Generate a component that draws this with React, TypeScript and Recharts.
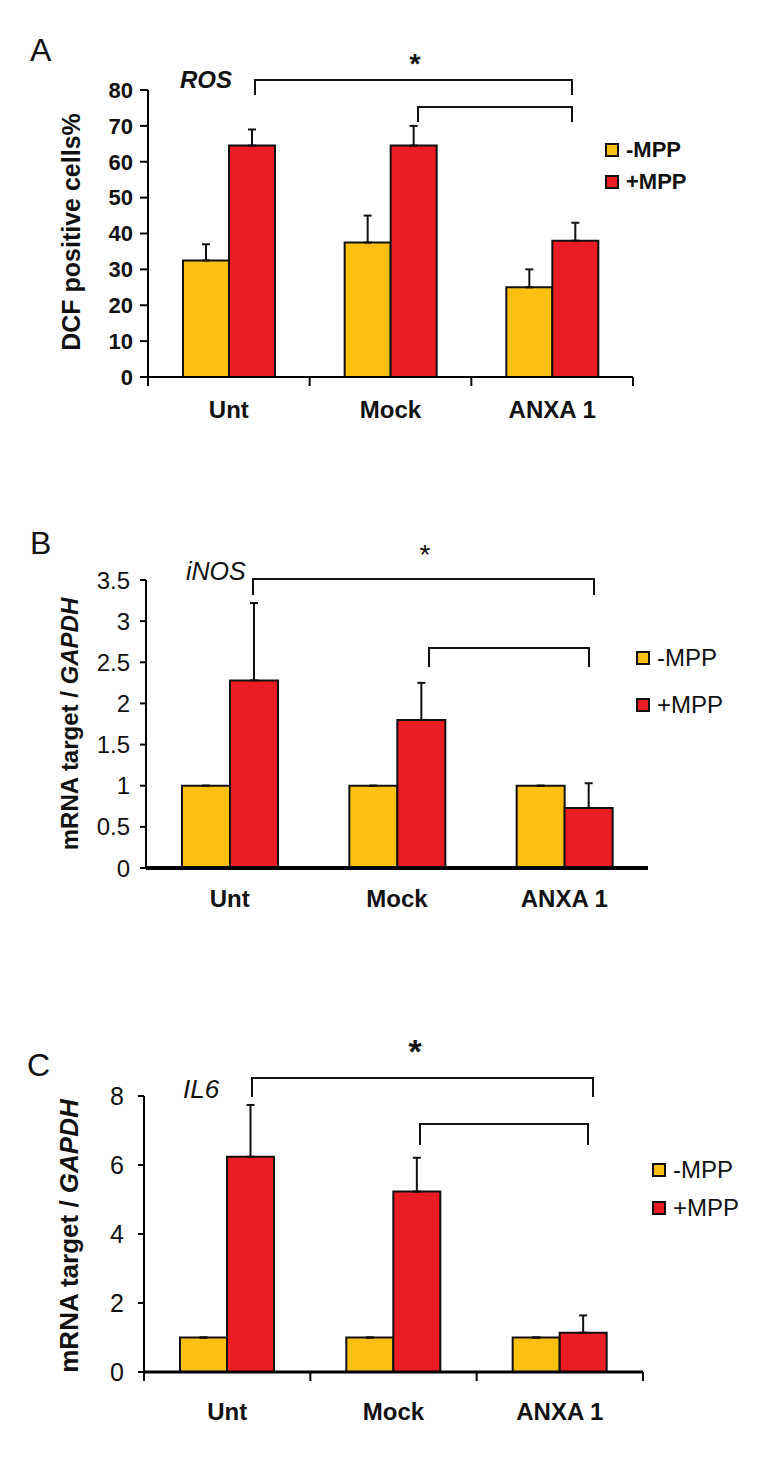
import React from 'react';
import { BarChart, Bar, XAxis, YAxis, ErrorBar } from 'recharts';

const categories = ['Unt', 'Mock', 'ANXA 1'];
const seriesNames = ['-MPP', '+MPP'];
const colors = ['#FDC010', '#EC1C24'];

// A: ROS
const rosMinus = [32.5, 37.5, 25];
const rosMinusErr = [4.5, 7.5, 5];
const rosPlus = [64.5, 64.5, 38];
const rosPlusErr = [4.5, 5.5, 5];
const rosTicks = [0, 10, 20, 30, 40, 50, 60, 70, 80];

// B: iNOS
const inosMinus = [1, 1, 1];
const inosMinusErr = [0, 0, 0];
const inosPlus = [2.28, 1.8, 0.73];
const inosPlusErr = [0.94, 0.45, 0.3];
const inosTicks = [0, 0.5, 1, 1.5, 2, 2.5, 3, 3.5];

// C: IL6
const il6Minus = [1, 1, 1];
const il6MinusErr = [0, 0, 0];
const il6Plus = [6.24, 5.23, 1.14];
const il6PlusErr = [1.5, 0.98, 0.5];
const il6Ticks = [0, 2, 4, 6, 8];

const FONT = '"Liberation Sans", Arial, sans-serif';
const W = 771;
const YW = 60;
const XH = 40;

const build = (minus: number[], minusErr: number[], plus: number[], plusErr: number[]) =>
  categories.map((name, i) => ({
    name,
    minus: minus[i],
    plus: plus[i],
    minusErr: [0, minusErr[i]],
    plusErr: [0, plusErr[i]],
  }));

type PanelProps = {
  top: number;
  height: number;
  plot: { left: number; right: number; top: number; bottom: number };
  data: any[];
  ticks: number[];
  domainMax: number;
  barSize: number;
  tickBold: boolean;
  tickFont: number;
  yTickSize: number;
  yTickMargin: number;
  xLabelDy: number;
  xTickMarks: boolean;
  xAxisWidth: number;
  legend: { x: number; y: number; pitch: number; bold: boolean; font: number };
};

function Panel(p: PanelProps) {
  const axisY = p.plot.bottom - p.top;
  const half = (p.plot.right - p.plot.left) / categories.length / 2;
  const margin = {
    top: p.plot.top - p.top,
    left: p.plot.left - YW,
    right: W - p.plot.right,
    bottom: p.top + p.height - p.plot.bottom - XH,
  };
  const XTick = (t: any) => {
    const { x, payload, index } = t;
    return (
      <g>
        {p.xTickMarks && (
          <line x1={x - half} x2={x - half} y1={axisY} y2={axisY + 9} stroke="#000" strokeWidth={2} />
        )}
        {p.xTickMarks && index === categories.length - 1 && (
          <line x1={x + half} x2={x + half} y1={axisY} y2={axisY + 9} stroke="#000" strokeWidth={2} />
        )}
        <text x={x} y={axisY + p.xLabelDy} textAnchor="middle" fontFamily={FONT} fontWeight="bold" fontSize={24} fill="#111">
          {payload.value}
        </text>
      </g>
    );
  };
  return (
    <div style={{ position: 'absolute', left: 0, top: p.top, width: W, height: p.height }}>
      <BarChart width={W} height={p.height} data={p.data} margin={margin} barGap={0} barSize={p.barSize}>
        <XAxis
          dataKey="name"
          height={XH}
          stroke="#000"
          strokeWidth={p.xAxisWidth}
          tickLine={false}
          tick={XTick}
          interval={0}
        />
        <YAxis
          width={YW}
          domain={[0, p.domainMax]}
          ticks={p.ticks}
          stroke="#000"
          strokeWidth={2}
          tickSize={p.yTickSize}
          tickMargin={p.yTickMargin}
          tick={{ fill: '#111', fontSize: p.tickFont, fontFamily: FONT, fontWeight: p.tickBold ? 'bold' : 'normal' }}
          allowDataOverflow
        />
        <Bar dataKey="minus" name={seriesNames[0]} fill={colors[0]} stroke="#111" strokeWidth={2} isAnimationActive={false}>
          <ErrorBar dataKey="minusErr" direction="y" width={4} stroke="#111" strokeWidth={2} />
        </Bar>
        <Bar dataKey="plus" name={seriesNames[1]} fill={colors[1]} stroke="#111" strokeWidth={2} isAnimationActive={false}>
          <ErrorBar dataKey="plusErr" direction="y" width={4} stroke="#111" strokeWidth={2} />
        </Bar>
      </BarChart>
      <div
        style={{
          position: 'absolute',
          left: p.legend.x,
          top: p.legend.y - p.top,
          display: 'flex',
          flexDirection: 'column',
          gap: p.legend.pitch - 14,
        }}
      >
        {seriesNames.map((n, i) => (
          <div key={n} style={{ display: 'flex', alignItems: 'center', height: 14 }}>
            <span
              style={{ width: 10, height: 10, background: colors[i], border: '2px solid #111', display: 'inline-block' }}
            />
            <span
              style={{
                marginLeft: 7,
                fontFamily: FONT,
                fontSize: p.legend.font,
                fontWeight: p.legend.bold ? 'bold' : 'normal',
                lineHeight: '14px',
                color: '#111',
                whiteSpace: 'nowrap',
              }}
            >
              {n}
            </span>
          </div>
        ))}
      </div>
    </div>
  );
}

const bracket = (x1: number, x2: number, y: number, drop: number) =>
  `M${x1},${y + drop} V${y} H${x2} V${y + drop}`;

export default function App() {
  return (
    <div style={{ position: 'absolute', left: 0, top: 0, width: W, height: 1471, background: '#fff' }}>
      <Panel
        top={0}
        height={440}
        plot={{ left: 148, right: 633, top: 90, bottom: 377 }}
        data={build(rosMinus, rosMinusErr, rosPlus, rosPlusErr)}
        ticks={rosTicks}
        domainMax={80}
        barSize={46}
        tickBold
        tickFont={22}
        yTickSize={8}
        yTickMargin={7}
        xLabelDy={41}
        xTickMarks
        xAxisWidth={2}
        legend={{ x: 605, y: 143, pitch: 32, bold: true, font: 22 }}
      />
      <Panel
        top={470}
        height={450}
        plot={{ left: 146, right: 648, top: 580, bottom: 868 }}
        data={build(inosMinus, inosMinusErr, inosPlus, inosPlusErr)}
        ticks={inosTicks}
        domainMax={3.5}
        barSize={48}
        tickBold={false}
        tickFont={24}
        yTickSize={6}
        yTickMargin={10}
        xLabelDy={39}
        xTickMarks={false}
        xAxisWidth={4}
        legend={{ x: 636, y: 651, pitch: 47, bold: false, font: 24 }}
      />
      <Panel
        top={980}
        height={480}
        plot={{ left: 144, right: 643, top: 1096, bottom: 1372 }}
        data={build(il6Minus, il6MinusErr, il6Plus, il6PlusErr)}
        ticks={il6Ticks}
        domainMax={8}
        barSize={47}
        tickBold={false}
        tickFont={25}
        yTickSize={6}
        yTickMargin={14}
        xLabelDy={48}
        xTickMarks
        xAxisWidth={3}
        legend={{ x: 652, y: 1163, pitch: 38, bold: false, font: 24 }}
      />
      <svg
        width={W}
        height={1471}
        style={{ position: 'absolute', left: 0, top: 0, pointerEvents: 'none' }}
        fontFamily={FONT}
      >
        {/* panel letters */}
        <text x={30} y={61} fontSize={32} fill="#111">A</text>
        <text x={30} y={554} fontSize={32} fill="#111">B</text>
        <text x={27} y={1076} fontSize={32} fill="#111">C</text>

        {/* y titles */}
        <text transform="translate(80,232) rotate(-90)" textAnchor="middle" fontSize={25} fontWeight="bold" fill="#111">
          DCF positive cells%
        </text>
        <text transform="translate(78,724) rotate(-90)" textAnchor="middle" fontSize={24} fontWeight="bold" fill="#111">
          mRNA target / <tspan fontStyle="italic">GAPDH</tspan>
        </text>
        <text transform="translate(78,1236) rotate(-90)" textAnchor="middle" fontSize={26} fontWeight="bold" fill="#111">
          mRNA target / <tspan fontStyle="italic">GAPDH</tspan>
        </text>

        {/* gene labels */}
        <text x={180} y={88} fontSize={24} fontWeight="bold" fontStyle="italic" fill="#111">ROS</text>
        <text x={186} y={580} fontSize={25} fontStyle="italic" fill="#111">iNOS</text>
        <text x={183} y={1098} fontSize={26} fontStyle="italic" fill="#111">IL6</text>

        {/* significance brackets */}
        <g fill="none" stroke="#111" strokeWidth={2}>
          <path d={bracket(255, 572, 80, 15)} />
          <path d={bracket(418, 572, 107, 15)} />
          <path d={bracket(253, 594, 579, 16)} />
          <path d={bracket(429, 589, 648, 19)} />
          <path d={bracket(252, 593, 1078, 19)} />
          <path d={bracket(420, 588, 1124, 21)} />
        </g>
        <text x={415} y={73} textAnchor="middle" fontSize={28} fontWeight="bold" fill="#111">*</text>
        <text x={425} y={564} textAnchor="middle" fontSize={28} fill="#111">*</text>
        <text x={415} y={1063} textAnchor="middle" fontSize={34} fontWeight="bold" fill="#111">*</text>
      </svg>
    </div>
  );
}
